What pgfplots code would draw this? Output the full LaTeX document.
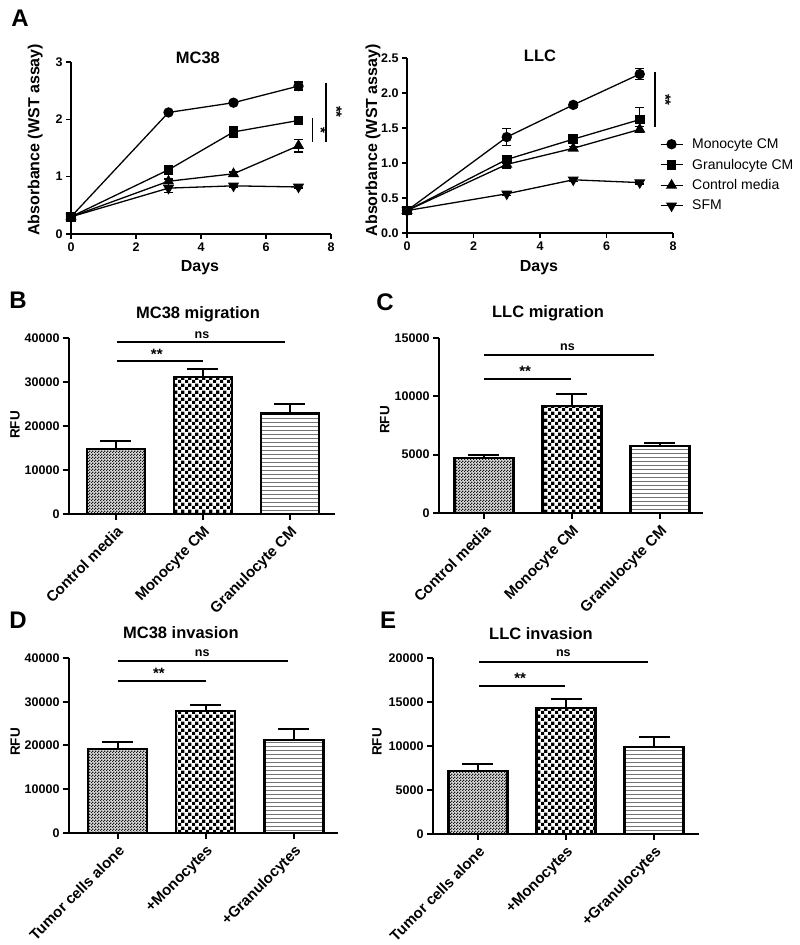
\documentclass[border=0pt]{standalone}
\usepackage{fontspec}
\setmainfont{Liberation Sans}
\usepackage{pgfplots}
\pgfplotsset{compat=1.18}
\usetikzlibrary{patterns.meta}

\newcommand{\fs}[1]{\fontsize{#1}{#1}\selectfont}

% bar fills
\tikzdeclarepattern{name=finecheck, type=uncolored,
  bounding box={(0pt,0pt) and (2.6pt,2.6pt)}, tile size={(2.6pt,2.6pt)},
  code={\fill (0pt,0pt) rectangle (1.3pt,1.3pt); \fill (1.3pt,1.3pt) rectangle (2.6pt,2.6pt);}}
\tikzdeclarepattern{name=coarsecheck, type=uncolored,
  bounding box={(0pt,0pt) and (6.6pt,6.6pt)}, tile size={(6.6pt,6.6pt)},
  code={\fill (0pt,0pt) rectangle (3.3pt,3.3pt); \fill (3.3pt,3.3pt) rectangle (6.6pt,6.6pt);}}
\tikzdeclarepattern{name=hlines, type=uncolored,
  bounding box={(0pt,0pt) and (4.4pt,4.4pt)}, tile size={(4.4pt,4.4pt)},
  code={\fill (0pt,0pt) rectangle (4.4pt,1.1pt);}}

\tikzset{
  sig/.style={line width=2pt},
  ns/.style={font=\fs{12.5}\bfseries},
  st/.style={font=\fs{15}\bfseries, yshift=-2.5pt},
}

\pgfplotsset{
  gp/.style={
    scale only axis, anchor=south west,
    axis lines=left,
    axis line style={-, line width=1.6pt},
    every inner x axis line/.append style={-}, every outer x axis line/.append style={-},
    every inner y axis line/.append style={-}, every outer y axis line/.append style={-},
    tick align=outside, major tick length=5pt,
    tick style={line width=1.6pt, black},
    enlargelimits=false, clip=false,
    /pgf/number format/assume math mode=true,
    ticklabel style={font=\fs{12.5}\bfseries},
    label style={font=\fs{16}\bfseries},
    title style={font=\fs{16.5}\bfseries, anchor=center, yshift=-8.5pt},
    xlabel style={anchor=center}, ylabel style={anchor=center},
  },
  ser/.style={black, line width=1.3pt, mark options={solid, fill=black},
    /pgfplots/error bars/y dir=both, /pgfplots/error bars/y explicit,
    /pgfplots/error bars/error mark=|,
    /pgfplots/error bars/error bar style={line width=1.3pt, black},
    /pgfplots/error bars/error mark options={line width=1.3pt, mark size=4.5pt, black}},
  bars/.style={gp,
    axis line style={line width=2pt}, tick style={line width=2pt}, major tick length=6pt,
    xtick={0,1,2}, ymin=0, scaled y ticks=false,
    yticklabel style={/pgf/number format/1000 sep={}},
    xticklabel style={rotate=45, anchor=north east, font=\fs{15}\bfseries},
    ylabel={RFU}, ylabel style={font=\fs{13.5}\bfseries}},
  barbase/.style={ybar, bar width=0.67, bar shift=0pt, draw=black, line width=2.3pt,
    /pgfplots/error bars/y dir=plus, /pgfplots/error bars/y explicit,
    /pgfplots/error bars/error mark=|,
    /pgfplots/error bars/error bar style={line width=2pt, black},
    /pgfplots/error bars/error mark options={line width=2pt, mark size=15.5pt, black}},
  bar1/.style={barbase, fill=black!14, postaction={pattern=finecheck, pattern color=black!90}},
  bar2/.style={barbase, pattern=coarsecheck, pattern color=black},
  bar3/.style={barbase, pattern=hlines, pattern color=black!55},
}

\begin{document}
\begin{tikzpicture}
\path[use as bounding box] (0pt,0pt) rectangle (800pt,945pt);

\node[font=\fs{24}\bfseries] at (20pt,927pt) {A};
\node[font=\fs{24}\bfseries] at (18pt,645pt) {B};
\node[font=\fs{24}\bfseries] at (385pt,643pt) {C};
\node[font=\fs{24}\bfseries] at (18pt,325pt) {D};
\node[font=\fs{24}\bfseries] at (388pt,325pt) {E};

% A: MC38 growth
\begin{axis}[gp, at={(71pt,711pt)}, width=260pt, height=172pt,
  xmin=0, xmax=8, ymin=0, ymax=3, xtick={0,2,4,6,8}, ytick={0,1,2,3},
  title={MC38}, title style={at={(axis description cs:0.488,1.04)}},
  xlabel={Days}, xlabel style={at={(axis description cs:0.496,-0.198)}},
  ylabel={Absorbance (WST assay)}, ylabel style={at={(axis description cs:-0.138,0.547)}}]
\addplot[ser, mark=*, mark size=4.5pt] coordinates {
  (0,0.30) +- (0,0.02) (3,2.12) +- (0,0.03) (5,2.29) +- (0,0.03) (7,2.58) +- (0,0.07)};
\addplot[ser, mark=square*, mark size=4.2pt] coordinates {
  (0,0.30) +- (0,0.02) (3,1.12) +- (0,0.08) (5,1.78) +- (0,0.10) (7,1.98) +- (0,0.04)};
\addplot[ser, mark=triangle*, mark size=5.2pt] coordinates {
  (0,0.30) +- (0,0.02) (3,0.92) +- (0,0.04) (5,1.05) +- (0,0.03) (7,1.54) +- (0,0.11)};
\addplot[ser, mark=triangle*, mark size=5.2pt, mark options={rotate=180}] coordinates {
  (0,0.30) +- (0,0.02) (3,0.80) +- (0,0.08) (5,0.84) +- (0,0.02) (7,0.82) +- (0,0.02)};
\draw[line width=1.3pt] (axis cs:7.85,2.64) -- (axis cs:7.85,1.60);
\draw[line width=1.3pt] (axis cs:7.42,2.02) -- (axis cs:7.42,1.60);
\node[st, rotate=-90, yshift=2.5pt, xshift=-2.5pt] at (axis cs:8.09,2.13) {**};
\node[st, rotate=-90, yshift=2.5pt, xshift=-2.5pt] at (axis cs:7.61,1.81) {*};
\end{axis}

% A: LLC growth
\begin{axis}[gp, at={(407pt,712pt)}, width=266pt, height=175pt,
  xmin=0, xmax=8, ymin=0, ymax=2.5, xtick={0,2,4,6,8}, ytick={0,0.5,1,1.5,2,2.5},
  yticklabel style={/pgf/number format/fixed, /pgf/number format/fixed zerofill, /pgf/number format/precision=1},
  title={LLC}, title style={at={(axis description cs:0.5,1.029)}},
  xlabel={Days}, xlabel style={at={(axis description cs:0.496,-0.2)}},
  ylabel={Absorbance (WST assay)}, ylabel style={at={(axis description cs:-0.128,0.53)}},
  legend style={at={(axis description cs:0.95,0.552)}, anchor=north west, draw=none, fill=none,
    font=\fs{14}, row sep=5pt, column sep=7pt, inner sep=0pt},
  legend cell align=left,
  legend image code/.code={\draw[mark repeat=2, mark phase=2, #1] plot coordinates {(0pt,0pt) (11pt,0pt) (22pt,0pt)};}]
\addplot[ser, mark=*, mark size=4.5pt] coordinates {
  (0,0.32) +- (0,0.02) (3,1.37) +- (0,0.12) (5,1.83) +- (0,0.03) (7,2.27) +- (0,0.08)};
\addplot[ser, mark=square*, mark size=4.2pt] coordinates {
  (0,0.32) +- (0,0.02) (3,1.05) +- (0,0.05) (5,1.34) +- (0,0.03) (7,1.62) +- (0,0.17)};
\addplot[ser, mark=triangle*, mark size=5.2pt] coordinates {
  (0,0.32) +- (0,0.02) (3,0.98) +- (0,0.05) (5,1.21) +- (0,0.03) (7,1.48) +- (0,0.04)};
\addplot[ser, mark=triangle*, mark size=5.2pt, mark options={rotate=180}] coordinates {
  (0,0.32) +- (0,0.02) (3,0.56) +- (0,0.02) (5,0.76) +- (0,0.02) (7,0.72) +- (0,0.02)};
\legend{Monocyte CM, Granulocyte CM, Control media, SFM}
\draw[line width=1.3pt] (axis cs:7.46,2.30) -- (axis cs:7.46,1.51);
\node[st, rotate=-90, yshift=2.5pt, xshift=-2.5pt] at (axis cs:7.70,1.90) {**};
\end{axis}

% B: MC38 migration
\begin{axis}[bars, at={(69pt,431pt)}, width=266pt, height=176pt,
  xmin=-0.54, xmax=2.52, ymax=40000, ytick={0,10000,20000,30000,40000},
  xticklabels={Control media, Monocyte CM, Granulocyte CM},
  title={MC38 migration}, title style={at={(axis description cs:0.485,1.148)}},
  ylabel style={at={(axis description cs:-0.203,0.506)}}]
\addplot[bar1] coordinates {(0,14800) +- (0,1820)};
\addplot[bar2] coordinates {(1,31200) +- (0,1740)};
\addplot[bar3] coordinates {(2,22850) +- (0,2120)};
\draw[sig] (axis cs:0.01,39090) -- (axis cs:1.95,39090);
\draw[sig] (axis cs:0.01,34840) -- (axis cs:1.0,34840);
\node[ns] at (axis cs:0.99,40680) {ns};
\node[st] at (axis cs:0.47,36820) {**};
\end{axis}

% C: LLC migration
\begin{axis}[bars, at={(439pt,432pt)}, width=264pt, height=175pt,
  xmin=-0.51, xmax=2.49, ymax=15000, ytick={0,5000,10000,15000},
  xticklabels={Control media, Monocyte CM, Granulocyte CM},
  title={LLC migration}, title style={at={(axis description cs:0.413,1.154)}},
  ylabel style={at={(axis description cs:-0.205,0.531)}}]
\addplot[bar1] coordinates {(0,4740) +- (0,200)};
\addplot[bar2] coordinates {(1,9200) +- (0,970)};
\addplot[bar3] coordinates {(2,5770) +- (0,260)};
\draw[sig] (axis cs:0.0,13514) -- (axis cs:1.93,13514);
\draw[sig] (axis cs:0.0,11514) -- (axis cs:0.99,11514);
\node[ns] at (axis cs:0.95,14230) {ns};
\node[st] at (axis cs:0.47,12343) {**};
\end{axis}

% D: MC38 invasion
\begin{axis}[bars, at={(69pt,112pt)}, width=269pt, height=175pt,
  xmin=-0.55, xmax=2.5, ymax=40000, ytick={0,10000,20000,30000,40000},
  xticklabels={Tumor cells alone, +Monocytes, +Granulocytes},
  title={MC38 invasion}, title style={at={(axis description cs:0.416,1.16)}},
  ylabel style={at={(axis description cs:-0.2,0.52)}}]
\addplot[bar1] coordinates {(0,19130) +- (0,1590)};
\addplot[bar2] coordinates {(1,27930) +- (0,1440)};
\addplot[bar3] coordinates {(2,21250) +- (0,2510)};
\draw[sig] (axis cs:0.0,39317) -- (axis cs:1.93,39317);
\draw[sig] (axis cs:0.0,34763) -- (axis cs:1.0,34763);
\node[ns] at (axis cs:0.96,41143) {ns};
\node[st] at (axis cs:0.47,37028) {**};
\end{axis}

% E: LLC invasion
\begin{axis}[bars, at={(433pt,111pt)}, width=266pt, height=176pt,
  xmin=-0.51, xmax=2.51, ymax=20000, ytick={0,5000,10000,15000,20000},
  xticklabels={Tumor cells alone, +Monocytes, +Granulocytes},
  title={LLC invasion}, title style={at={(axis description cs:0.406,1.153)}},
  ylabel style={at={(axis description cs:-0.21,0.523)}}]
\addplot[bar1] coordinates {(0,7150) +- (0,830)};
\addplot[bar2] coordinates {(1,14290) +- (0,1020)};
\addplot[bar3] coordinates {(2,9905) +- (0,1135)};
\draw[sig] (axis cs:0.01,19546) -- (axis cs:1.93,19546);
\draw[sig] (axis cs:0.01,16786) -- (axis cs:0.99,16786);
\node[ns] at (axis cs:0.97,20568) {ns};
\node[st] at (axis cs:0.48,17955) {**};
\end{axis}
\end{tikzpicture}
\end{document}
